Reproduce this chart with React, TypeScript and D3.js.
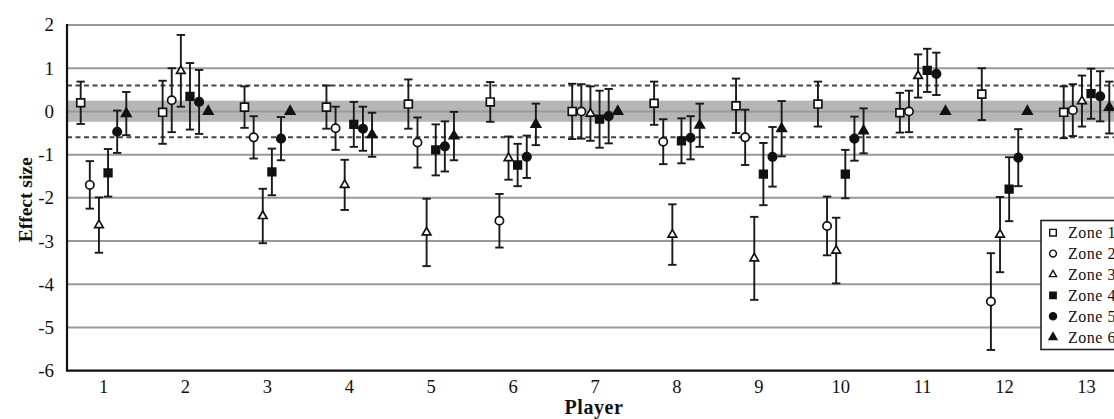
import React from "react";
import * as d3 from "d3";

const players = [1, 2, 3, 4, 5, 6, 7, 8, 9, 10, 11, 12, 13];
const zones = ["Zone 1", "Zone 2", "Zone 3", "Zone 4", "Zone 5", "Zone 6"];
const yTicks = [2, 1, 0, -1, -2, -3, -4, -5, -6];

const zone1Mean = [0.2, -0.02, 0.1, 0.1, 0.17, 0.22, 0, 0.19, 0.13, 0.17, -0.03, 0.4, -0.02];
const zone1Err = [0.49, 0.73, 0.48, 0.5, 0.57, 0.46, 0.64, 0.5, 0.63, 0.52, 0.46, 0.6, 0.6];
const zone2Mean = [-1.7, 0.26, -0.6, -0.39, -0.72, -2.53, 0, -0.7, -0.6, -2.65, 0, -4.4, 0.03];
const zone2Err = [0.55, 0.74, 0.49, 0.5, 0.58, 0.62, 0.63, 0.52, 0.64, 0.68, 0.48, 1.12, 0.6];
const zone3Mean = [-2.63, 0.94, -2.42, -1.7, -2.8, -1.08, -0.05, -2.85, -3.4, -3.22, 0.82, -2.85, 0.24];
const zone3Err = [0.64, 0.83, 0.63, 0.58, 0.78, 0.5, 0.63, 0.7, 0.96, 0.76, 0.5, 0.87, 0.59];
const zone4Mean = [-1.42, 0.35, -1.4, -0.3, -0.89, -1.24, -0.18, -0.68, -1.45, -1.45, 0.95, -1.8, 0.41];
const zone4Err = [0.55, 0.77, 0.54, 0.52, 0.59, 0.49, 0.66, 0.52, 0.72, 0.56, 0.5, 0.74, 0.58];
const zone5Mean = [-0.47, 0.22, -0.63, -0.4, -0.81, -1.05, -0.11, -0.61, -1.05, -0.63, 0.87, -1.07, 0.35];
const zone5Err = [0.49, 0.74, 0.5, 0.51, 0.58, 0.49, 0.63, 0.5, 0.69, 0.51, 0.49, 0.66, 0.58];
const zone6Mean = [-0.05, 0, 0, -0.54, -0.57, -0.3, 0, -0.32, -0.4, -0.45, 0, 0, 0.09];
const zone6Err = [0.5, 0, 0, 0.51, 0.56, 0.48, 0, 0.5, 0.64, 0.52, 0, 0, 0.6];

const means = [zone1Mean, zone2Mean, zone3Mean, zone4Mean, zone5Mean, zone6Mean];
const errs = [zone1Err, zone2Err, zone3Err, zone4Err, zone5Err, zone6Err];

const W = 1114;
const H = 419;
const plotLeft = 67;
const plotRight = 1114;
const FONT = "'Liberation Serif', 'Times New Roman', serif";

const symbolTypes = [d3.symbolSquare, d3.symbolCircle, d3.symbolTriangle, d3.symbolSquare, d3.symbolCircle, d3.symbolTriangle];
const symbolSizes = [62, 54, 32, 58, 56, 38];
const filled = [false, false, false, true, true, true];

export default function App() {
  const y = d3.scaleLinear().domain([-6, 2]).range([370.7, 25]);
  const x = d3.scaleLinear().domain([1, 13]).range([103.5, 1086.5]);
  const off = d3.scalePoint<string>().domain(zones).range([-22.8, 22.8]);

  const gridVals = yTicks.filter((v) => v !== -6);

  return (
    <svg
      width={W}
      height={H}
      style={{ position: "absolute", left: 0, top: 0, background: "#fff" }}
      fontFamily={FONT}
    >
      {/* shaded band around zero */}
      <rect x={plotLeft} y={y(0.25)} width={plotRight - plotLeft} height={y(-0.24) - y(0.25)} fill="#b6b6b6" />
      {/* gridlines */}
      {gridVals.map((v) => (
        <line key={v} x1={plotLeft} x2={plotRight} y1={y(v)} y2={y(v)} stroke="#999" strokeWidth={2} />
      ))}
      {/* dashed thresholds */}
      {[0.6, -0.6].map((v) => (
        <line key={v} x1={plotLeft} x2={plotRight} y1={y(v)} y2={y(v)} stroke="#444" strokeWidth={2} strokeDasharray="5,3.5" />
      ))}
      {/* axes */}
      <line x1={plotLeft} x2={plotLeft} y1={y(2) - 1} y2={y(-6) + 1} stroke="#111" strokeWidth={2.2} />
      <line x1={plotLeft} x2={plotRight} y1={y(-6)} y2={y(-6)} stroke="#111" strokeWidth={2.2} />
      {/* y tick labels */}
      {yTicks.map((v) => (
        <text key={v} x={54} y={y(v)} dy="0.34em" textAnchor="end" fontSize={19} fill="#111">
          {v}
        </text>
      ))}
      {/* x tick labels */}
      {players.map((p) => (
        <text key={p} x={x(p)} y={393} textAnchor="middle" fontSize={18.5} fill="#111">
          {p}
        </text>
      ))}
      <text x={594} y={414} textAnchor="middle" fontSize={20} fontWeight="bold" fill="#111" letterSpacing={0.6}>
        Player
      </text>
      <text
        transform={`translate(32, ${(y(2) + y(-6)) / 2 + 2}) rotate(-90)`}
        textAnchor="middle"
        fontSize={19.5}
        fontWeight="bold"
        fill="#111"
      >
        Effect size
      </text>
      {/* error bars and markers */}
      {zones.map((z, zi) => (
        <g key={z}>
          {players.map((p, pi) => {
            const cx = x(p) + (off(z) as number);
            const m = means[zi][pi];
            const e = errs[zi][pi];
            const sym = d3.symbol().type(symbolTypes[zi]).size(symbolSizes[zi])();
            return (
              <g key={p}>
                {e > 0 && (
                  <g stroke="#1a1a1a" strokeWidth={1.9}>
                    <line x1={cx} x2={cx} y1={y(m + e)} y2={y(m - e)} />
                    <line x1={cx - 4.2} x2={cx + 4.2} y1={y(m + e)} y2={y(m + e)} />
                    <line x1={cx - 4.2} x2={cx + 4.2} y1={y(m - e)} y2={y(m - e)} />
                  </g>
                )}
                <path
                  d={sym || ""}
                  transform={`translate(${cx},${y(m)})`}
                  fill={filled[zi] ? "#111" : "#fff"}
                  stroke="#111"
                  strokeWidth={1.7}
                />
              </g>
            );
          })}
        </g>
      ))}
      {/* legend */}
      <g>
        <rect x={1041} y={220.5} width={100} height={129} fill="#fff" stroke="#222" strokeWidth={1.6} />
        {zones.map((z, zi) => {
          const ly = 232.7 + zi * 20.9;
          const sym = d3.symbol().type(symbolTypes[zi]).size(symbolSizes[zi] * 0.7)();
          return (
            <g key={z}>
              <path
                d={sym || ""}
                transform={`translate(1053,${ly})`}
                fill={filled[zi] ? "#111" : "#fff"}
                stroke="#111"
                strokeWidth={1.4}
              />
              <text x={1068} y={ly} dy="0.35em" fontSize={16} fill="#111" letterSpacing={0.5}>
                {z}
              </text>
            </g>
          );
        })}
      </g>
    </svg>
  );
}
